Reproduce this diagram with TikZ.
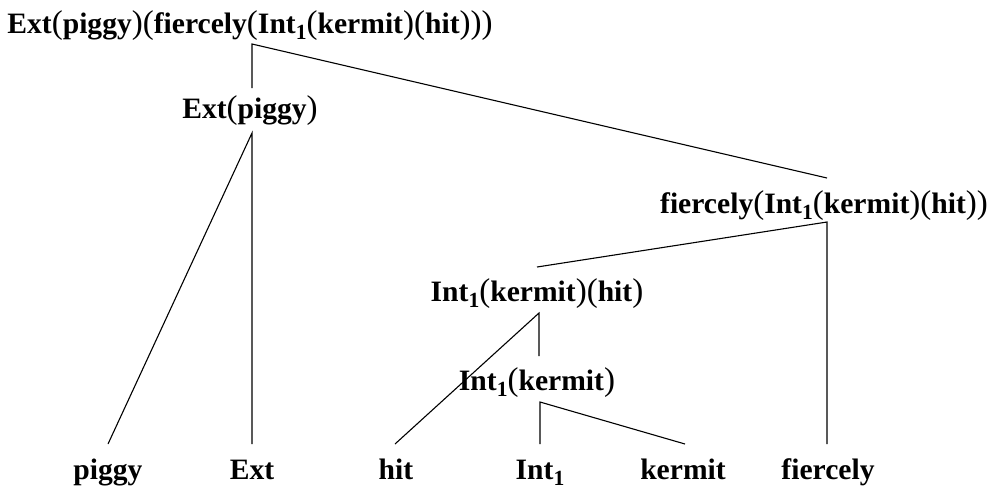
\documentclass[tikz,border=0pt]{standalone}
\usepackage{fontspec}
\setmainfont{Liberation Serif}
\newcommand{\bw}[1]{\textbf{#1}}
\newcommand{\lp}{{\fontsize{16.5}{17}\selectfont(}}
\newcommand{\rp}{{\fontsize{16.5}{17}\selectfont)}}
\newcommand{\subone}{\raisebox{-0.22em}{\fontsize{10.8}{12}\selectfont\bfseries 1}}
\newcommand{\IntOne}{\bw{Int}\subone}
\begin{document}
\begin{tikzpicture}[x=0.5pt,y=-0.5pt,
  lbl/.style={anchor=base,inner sep=0pt,font=\fontsize{14.8}{17}\selectfont},
  edge/.style={line width=0.55pt,black}]
\useasboundingbox (0,0) rectangle (988,489);
% labels
\node[lbl] (root) at (250,33) {\bw{Ext}\lp\bw{piggy}\rp\lp\bw{fiercely}\lp\IntOne\lp\bw{kermit}\rp\lp\bw{hit}\rp\rp\rp};
\node[lbl] (extpiggy) at (250,118) {\bw{Ext}\lp\bw{piggy}\rp};
\node[lbl] (fierce) at (824,213) {\bw{fiercely}\lp\IntOne\lp\bw{kermit}\rp\lp\bw{hit}\rp\rp};
\node[lbl] (intkh) at (537,301) {\IntOne\lp\bw{kermit}\rp\lp\bw{hit}\rp};
\node[lbl] (intk) at (537,390) {\IntOne\lp\bw{kermit}\rp};
\node[lbl] (lpiggy) at (108,479) {\bw{piggy}};
\node[lbl] (lext) at (252,479) {\bw{Ext}};
\node[lbl] (lhit) at (396,479) {\bw{hit}};
\node[lbl] (lint) at (540,479) {\IntOne};
\node[lbl] (lkermit) at (683,479) {\bw{kermit}};
\node[lbl] (lfierce) at (828,479) {\bw{fiercely}};
% branch points below and above each label
\coordinate (root-b) at (252,44);
\coordinate (extpiggy-t) at (252,88);
\coordinate (extpiggy-b) at (252,133);
\coordinate (fierce-t) at (827,178);
\coordinate (fierce-b) at (827,222);
\coordinate (intkh-t) at (537,267);
\coordinate (intkh-b) at (539,313);
\coordinate (intk-t) at (539,356);
\coordinate (intk-b) at (540,402);
\coordinate (lpiggy-t) at (108,444);
\coordinate (lext-t) at (252,444);
\coordinate (lhit-t) at (395,444);
\coordinate (lint-t) at (540,444);
\coordinate (lkermit-t) at (685,444);
\coordinate (lfierce-t) at (827,444);
% tree edges
\draw[edge] (extpiggy-t) -- (root-b) -- (fierce-t);
\draw[edge] (lpiggy-t) -- (extpiggy-b) -- (lext-t);
\draw[edge] (intkh-t) -- (fierce-b) -- (lfierce-t);
\draw[edge] (lhit-t) -- (intkh-b) -- (intk-t);
\draw[edge] (lint-t) -- (intk-b) -- (lkermit-t);
\end{tikzpicture}
\end{document}
